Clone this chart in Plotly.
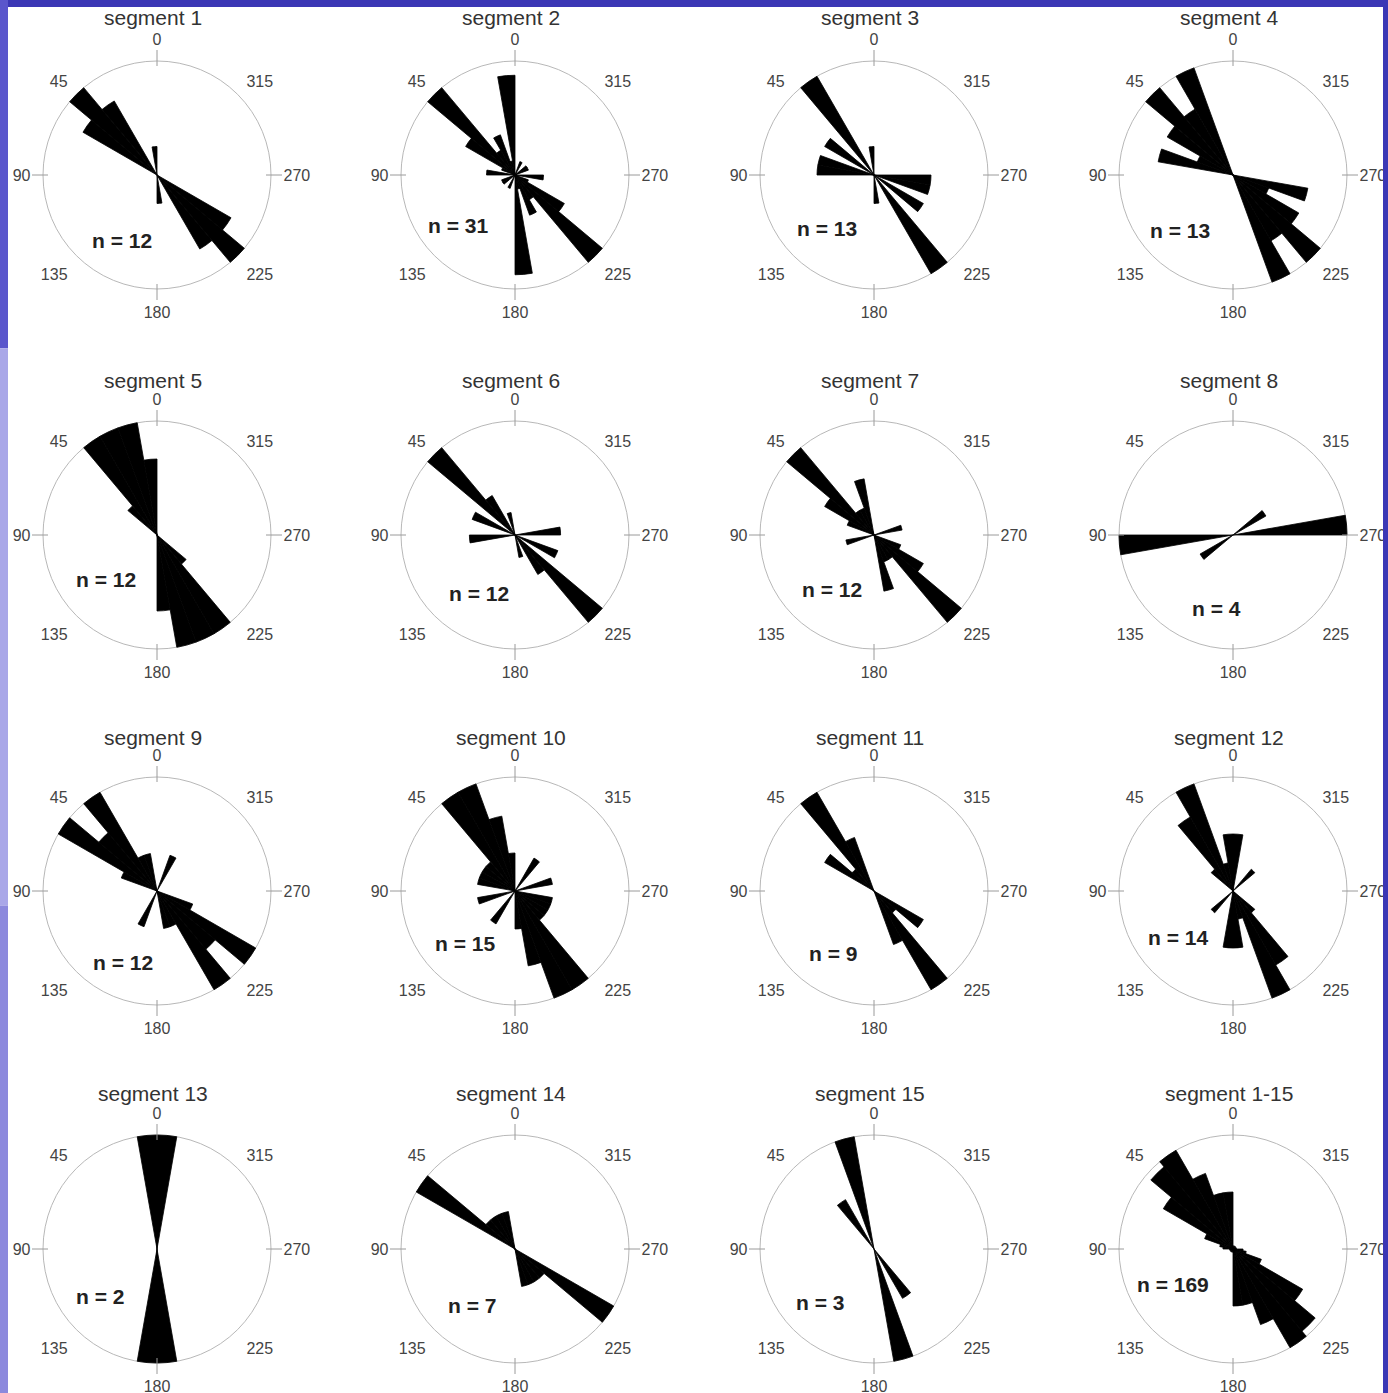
import plotly.graph_objects as go

# ---------------- data: counts per 10-degree bin (0-10, 10-20, ..., 170-180); mirrored for 180-360
BIN_STARTS = list(range(0, 180, 10))
SEG1 = [1, 0, 0, 3, 4, 3, 0, 0, 0, 0, 0, 0, 0, 0, 0, 0, 0, 0]
SEG2 = [7, 1, 3, 2, 8, 4, 1, 0, 2, 0, 0, 1, 1, 0, 0, 1, 0, 0]
SEG3 = [1, 0, 0, 4, 0, 2, 0, 2, 2, 0, 0, 0, 0, 0, 0, 0, 0, 0]
SEG4 = [0, 0, 3, 2, 3, 2, 1, 2, 0, 0, 0, 0, 0, 0, 0, 0, 0, 0]
SEG5 = [2, 3, 3, 3, 1, 0, 0, 0, 0, 0, 0, 0, 0, 0, 0, 0, 0, 0]
SEG6 = [0, 1, 0, 2, 5, 0, 2, 0, 0, 2, 0, 0, 0, 0, 0, 0, 0, 0]
SEG7 = [0, 2, 1, 1, 4, 2, 1, 0, 0, 0, 1, 0, 0, 0, 0, 0, 0, 0]
SEG8 = [0, 0, 0, 0, 0, 0, 0, 0, 0, 3, 0, 0, 1, 0, 0, 0, 0, 0]
SEG9 = [0, 1, 1, 3, 2, 3, 1, 0, 0, 0, 0, 0, 0, 0, 0, 1, 0, 0]
SEG10 = [1, 2, 3, 3, 1, 1, 1, 1, 0, 0, 1, 0, 0, 0, 1, 0, 0, 0]
SEG11 = [0, 0, 2, 4, 1, 2, 0, 0, 0, 0, 0, 0, 0, 0, 0, 0, 0, 0]
SEG12 = [2, 1, 4, 3, 1, 0, 0, 0, 0, 0, 0, 0, 0, 1, 0, 0, 0, 2]
SEG13 = [1, 0, 0, 0, 0, 0, 0, 0, 0, 0, 0, 0, 0, 0, 0, 0, 0, 1]
SEG14 = [0, 1, 1, 1, 1, 3, 0, 0, 0, 0, 0, 0, 0, 0, 0, 0, 0, 0]
SEG15 = [0, 2, 0, 1, 0, 0, 0, 0, 0, 0, 0, 0, 0, 0, 0, 0, 0, 0]
SEG16 = [17, 17, 24, 34, 32, 24, 9, 4, 3, 1, 1, 0, 1, 0, 1, 0, 1, 0]

SEGMENTS = [SEG1, SEG2, SEG3, SEG4, SEG5, SEG6, SEG7, SEG8,
            SEG9, SEG10, SEG11, SEG12, SEG13, SEG14, SEG15, SEG16]
TITLES = ["segment 1", "segment 2", "segment 3", "segment 4",
          "segment 5", "segment 6", "segment 7", "segment 8",
          "segment 9", "segment 10", "segment 11", "segment 12",
          "segment 13", "segment 14", "segment 15", "segment 1-15"]
N_LABELS = ["n = 12", "n = 31", "n = 13", "n = 13",
            "n = 12", "n = 12", "n = 12", "n = 4",
            "n = 12", "n = 15", "n = 9", "n = 14",
            "n = 2", "n = 7", "n = 3", "n = 169"]
TICK_VALS = [0, 45, 90, 135, 180, 225, 270, 315]
TICK_TEXT = ["0", "45", "90", "135", "180", "225", "270", "315"]

# ---------------- layout (pixels)
W, H = 1388, 1393
COL_X = [157, 515, 874, 1233]
ROW_Y = [175, 535, 891, 1249]
R = 114          # radius of the drawn circle
RD = 126         # radius of the polar domain (room for cross ticks)
TITLE_DY = [-157, -155, -154, -156]
N_OFFSETS = [(-35, 65), (-57, 51), (-47, 54), (-53, 55),
             (-51, 44), (-36, 58), (-42, 54), (-17, 73),
             (-34, 71), (-50, 52), (-41, 62), (-55, 46),
             (-57, 47), (-43, 56), (-54, 53), (-60, 35)]
FONT = "Liberation Sans, Arial, sans-serif"

fig = go.Figure()
layout = dict(width=W, height=H, margin=dict(l=0, r=0, t=0, b=0, pad=0),
              paper_bgcolor="white", showlegend=False, font=dict(family=FONT))
annotations = []

for k, counts in enumerate(SEGMENTS):
    row, col = divmod(k, 4)
    cx, cy = COL_X[col], ROW_Y[row]
    name = "polar" if k == 0 else f"polar{k + 1}"
    m = max(counts)

    theta, rr = [], []
    for b, c in zip(BIN_STARTS, counts):
        if c > 0:
            theta += [b + 5, b + 185]
            rr += [c, c]

    # cardinal cross ticks on the circle
    tr, tt = [], []
    for a in (0, 90, 180, 270):
        tr += [m * (1 - 5 / R), m * (1 + 11 / R), None]
        tt += [a, a, None]
    fig.add_trace(go.Scatterpolar(r=tr, theta=tt, mode="lines",
                                  line=dict(color="#9a9a9a", width=1),
                                  hoverinfo="skip", subplot=name))
    fig.add_trace(go.Barpolar(r=rr, theta=theta, width=[10] * len(theta),
                              marker=dict(color="black",
                                          line=dict(color="black", width=0.8)),
                              subplot=name))

    layout[name] = dict(
        domain=dict(x=[(cx - RD) / W, (cx + RD) / W],
                    y=[(H - cy - RD) / H, (H - cy + RD) / H]),
        bgcolor="rgba(0,0,0,0)",
        bargap=0,
        radialaxis=dict(range=[0, m * RD / R], visible=True, showline=False,
                        showticklabels=False, ticks="", tickvals=[m],
                        showgrid=True, gridcolor="#b8b8b8", gridwidth=1),
        angularaxis=dict(direction="counterclockwise", rotation=90,
                         tickvals=TICK_VALS, ticktext=TICK_TEXT,
                         showgrid=False, showline=False, ticks="",
                         tickfont=dict(size=16, color="#444", family=FONT)),
    )

    annotations.append(dict(text=TITLES[k], x=(cx - 4) / W,
                            y=1 - (cy + TITLE_DY[row]) / H,
                            xref="paper", yref="paper", showarrow=False,
                            xanchor="center", yanchor="middle",
                            font=dict(size=21, color="#333", family=FONT)))
    dx, dy = N_OFFSETS[k]
    annotations.append(dict(text="<b>" + N_LABELS[k] + "</b>",
                            x=(cx + dx) / W, y=1 - (cy + dy) / H,
                            xref="paper", yref="paper", showarrow=False,
                            xanchor="center", yanchor="middle",
                            font=dict(size=21, color="#222", family=FONT)))

# slide border
shapes = [
    dict(type="rect", xref="paper", yref="paper", x0=0, x1=1, y0=1 - 7 / H, y1=1,
         fillcolor="#3b37b5", line=dict(width=0), layer="above"),
    dict(type="rect", xref="paper", yref="paper", x0=1383 / W, x1=1, y0=0, y1=1,
         fillcolor="#3b37b5", line=dict(width=0), layer="above"),
    dict(type="rect", xref="paper", yref="paper", x0=0, x1=8 / W, y0=0.75, y1=1,
         fillcolor="#5a56cc", line=dict(width=0), layer="above"),
    dict(type="rect", xref="paper", yref="paper", x0=0, x1=8 / W, y0=0.35, y1=0.75,
         fillcolor="#a9a7e8", line=dict(width=0), layer="above"),
    dict(type="rect", xref="paper", yref="paper", x0=0, x1=8 / W, y0=0, y1=0.35,
         fillcolor="#8c89dd", line=dict(width=0), layer="above"),
]
layout["annotations"] = annotations
layout["shapes"] = shapes
fig.update_layout(**layout)
fig.write_html("out.html")
